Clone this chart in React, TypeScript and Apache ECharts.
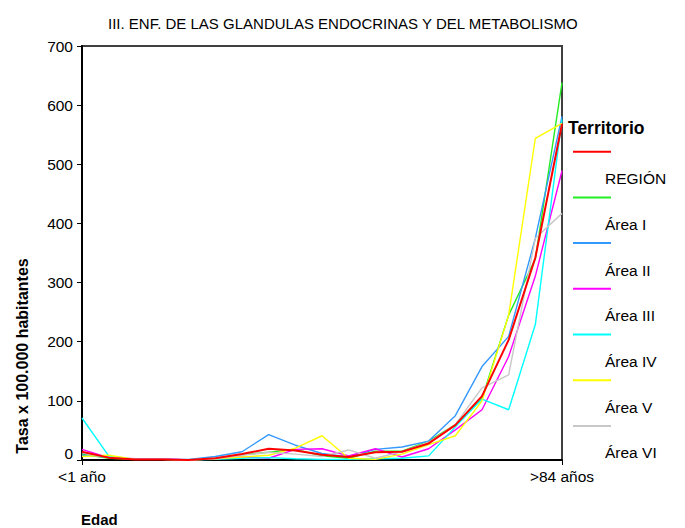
import React, { useEffect, useRef } from "react";
import * as echarts from "echarts";

const categories = ["<1 año", "1-4", "5-9", "10-14", "15-19", "20-24", "25-29", "30-34", "35-39", "40-44", "45-49", "50-54", "55-59", "60-64", "65-69", "70-74", "75-79", "80-84", ">84 años"];

const region = [14, 4, 1, 1, 0, 3, 10, 19, 16, 9, 5, 13, 14, 28, 59, 108, 203, 342, 568];
const areaI = [10, 3, 1, 1, 0, 3, 9, 13, 18, 7, 3, 15, 15, 32, 60, 104, 245, 340, 638];
const areaII = [8, 5, 1, 1, 1, 6, 14, 43, 25, 11, 5, 18, 22, 32, 75, 158, 209, 375, 581];
const areaIII = [18, 4, 2, 2, 0, 2, 5, 3, 18, 19, 7, 19, 5, 19, 51, 85, 175, 311, 489];
const areaIV = [71, 7, 1, 1, 0, 1, 3, 4, 2, 1, 1, 2, 3, 7, 56, 103, 85, 229, 576];
const areaV = [6, 8, 1, 1, 0, 2, 5, 8, 20, 41, 3, 1, 10, 26, 41, 100, 245, 544, 569];
const areaVI = [12, 4, 1, 1, 0, 2, 8, 13, 10, 6, 17, 3, 14, 30, 60, 122, 144, 375, 417];

const seriesNames = ["REGIÓN", "Área I", "Área II", "Área III", "Área IV", "Área V", "Área VI"];
const seriesData = [region, areaI, areaII, areaIII, areaIV, areaV, areaVI];
const seriesColors = ["#FF0000", "#22EE22", "#3399FF", "#FF00FF", "#00FFFF", "#FFFF00", "#C8C8C8"];

const titleText = "III. ENF. DE LAS GLANDULAS ENDOCRINAS Y DEL METABOLISMO";
const yAxisName = "Tasa x 100.000 habitantes";
const xAxisName = "Edad";
const legendTitle = "Territorio";

const FONT = "'Liberation Sans', Arial, sans-serif";

export default function App() {
  const ref = useRef<HTMLDivElement>(null);
  useEffect(() => {
    const chart = echarts.init(ref.current!, null, { renderer: "svg" });
    const lastIdx = categories.length - 1;
    const showEnds = (i: number) => i === 0 || i === lastIdx;

    const legendGraphics: any[] = [
      {
        type: "text",
        left: 568,
        top: 119,
        style: { text: legendTitle, font: `bold 17.5px ${FONT}`, fill: "#000" },
      },
    ];
    seriesNames.forEach((name, i) => {
      const ly = 151.7 + i * 45.7;
      legendGraphics.push({
        type: "line",
        shape: { x1: 573, y1: ly, x2: 611, y2: ly },
        style: { stroke: seriesColors[i], lineWidth: 2 },
      });
      legendGraphics.push({
        type: "text",
        x: 605,
        y: ly + 27,
        style: { text: name, font: `15.5px ${FONT}`, fill: "#000", verticalAlign: "middle" },
      });
    });

    chart.setOption({
      animation: false,
      backgroundColor: "#fff",
      textStyle: { fontFamily: FONT },
      title: {
        text: titleText,
        left: 103,
        top: 11,
        textStyle: { fontSize: 15, fontWeight: "normal", color: "#000", fontFamily: FONT },
      },
      grid: {
        left: 82,
        right: 123,
        top: 46,
        bottom: 68,
        show: true,
        borderColor: "#404040",
        borderWidth: 2,
        backgroundColor: "transparent",
      },
      xAxis: {
        type: "category",
        data: categories,
        boundaryGap: false,
        axisLine: { show: true, lineStyle: { color: "#000", width: 2 } },
        axisTick: { show: true, interval: showEnds, length: 5, lineStyle: { color: "#000", width: 1 } },
        axisLabel: { interval: showEnds, fontSize: 15.5, color: "#000", margin: 8, fontFamily: FONT },
        splitLine: { show: false },
      },
      yAxis: {
        type: "value",
        min: 0,
        max: 700,
        interval: 100,
        axisLine: { show: true, lineStyle: { color: "#000", width: 2 } },
        axisTick: { show: true, length: 5, lineStyle: { color: "#000", width: 1 } },
        axisLabel: {
          fontSize: 15.5,
          color: "#000",
          margin: 9,
          fontFamily: FONT,
          formatter: (v: number) => (v === 0 ? "{z|0}" : String(v)),
          rich: { z: { fontSize: 15.5, color: "#000", padding: [0, 0, 14, 0], fontFamily: FONT } },
        },
        splitLine: { show: false },
      },
      series: seriesNames.map((name, i) => ({
        name,
        type: "line",
        data: seriesData[i],
        symbol: "none",
        z: i === 0 ? 5 : 2,
        lineStyle: { color: seriesColors[i], width: i === 0 ? 2 : 1.4 },
        itemStyle: { color: seriesColors[i] },
      })),
      graphic: [
        {
          type: "text",
          x: 22,
          y: 356,
          rotation: Math.PI / 2,
          style: {
            text: yAxisName,
            font: `bold 16px ${FONT}`,
            fill: "#000",
            align: "center",
            verticalAlign: "middle",
          },
        },
        {
          type: "text",
          left: 81,
          top: 512,
          style: { text: xAxisName, font: `bold 15px ${FONT}`, fill: "#000" },
        },
        ...legendGraphics,
      ],
    });
    return () => chart.dispose();
  }, []);
  return <div ref={ref} style={{ position: "absolute", left: 0, top: 0, width: 685, height: 528 }} />;
}
